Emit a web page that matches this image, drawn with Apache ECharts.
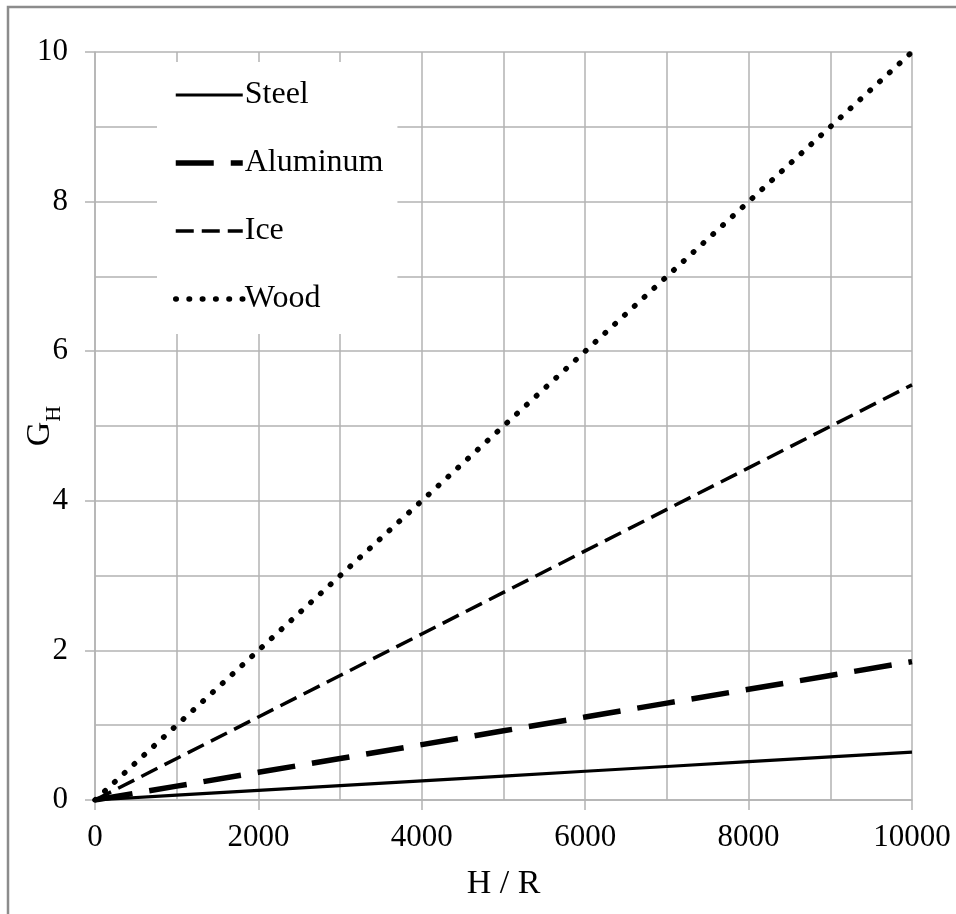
<!DOCTYPE html>
<html>
<head>
<meta charset="utf-8">
<script src="https://cdn.jsdelivr.net/npm/echarts@6/dist/echarts.min.js"></script>
<style>
html,body{margin:0;padding:0;background:#fff;}
#c{width:956px;height:914px;}
</style>
</head>
<body>
<div id="c"></div>
<script>
// Data
const hOverR = [0, 1000, 2000, 3000, 4000, 5000, 6000, 7000, 8000, 9000, 10000];
const steel = [0, 0.064, 0.128, 0.192, 0.256, 0.32, 0.384, 0.448, 0.512, 0.576, 0.64];
const aluminum = [0, 0.185, 0.37, 0.555, 0.74, 0.925, 1.11, 1.295, 1.48, 1.665, 1.85];
const ice = [0, 0.555, 1.11, 1.665, 2.22, 2.775, 3.33, 3.885, 4.44, 4.995, 5.55];
const wood = [0, 1, 2, 3, 4, 5, 6, 7, 8, 9, 10];
const seriesNames = ['Steel', 'Aluminum', 'Ice', 'Wood'];

function pairs(ys) { return hOverR.map((x, i) => [x, ys[i]]); }

const FONT = '"Liberation Serif", "Times New Roman", serif';
const GRID_COLOR = '#b3b3b3';

const styles = {
  Steel: {color: '#000', width: 3.2, type: 'solid', cap: 'butt'},
  Aluminum: {color: '#000', width: 5.5, type: [38, 17], cap: 'butt'},
  Ice: {color: '#000', width: 3.5, type: [18, 8], cap: 'butt'},
  Wood: {color: '#000', width: 5.5, type: [0.5, 12.8], cap: 'round'}
};

const chart = echarts.init(document.getElementById('c'), null, {renderer: 'canvas'});
chart.setOption({
  backgroundColor: '#fff',
  animation: false,
  graphic: [{
    type: 'rect', left: 5.5, top: 4.5, z: -10,
    shape: {x: 0, y: 0, width: 960, height: 930},
    style: {fill: 'none', stroke: '#8c8c8c', lineWidth: 2.5}
  }],
  grid: {left: 95, top: 52, right: 44, bottom: 114, containLabel: false, outerBoundsMode: 'none'},
  legend: {
    orient: 'vertical',
    left: 157, top: 62,
    padding: [16, 14, 18, 16],
    backgroundColor: '#fff',
    itemWidth: 67, itemHeight: 14, itemGap: 34,
    itemStyle: {opacity: 0, borderWidth: 0},
    data: seriesNames.map(n => ({name: n, itemStyle: {opacity: 0, borderWidth: 0}, lineStyle: styles[n]})),
    textStyle: {fontFamily: FONT, fontSize: 32, color: '#000', lineHeight: 34, padding: [0, 0, 0, -3]}
  },
  xAxis: {
    type: 'value', min: 0, max: 10000, interval: 2000,
    name: 'H / R', nameLocation: 'middle', nameGap: 67, nameMoveOverlap: false,
    nameTextStyle: {fontFamily: FONT, fontSize: 34, color: '#000'},
    axisLine: {show: true, lineStyle: {color: GRID_COLOR, width: 1.5}},
    axisTick: {show: true, inside: false, length: 10, lineStyle: {color: GRID_COLOR, width: 1.5}},
    axisLabel: {fontFamily: FONT, fontSize: 31, color: '#000', margin: 22, formatter: v => String(v)},
    splitLine: {show: true, lineStyle: {color: GRID_COLOR, width: 1.5}},
    minorTick: {show: false, splitNumber: 2},
    minorSplitLine: {show: true, lineStyle: {color: GRID_COLOR, width: 1.5}}
  },
  yAxis: {
    type: 'value', min: 0, max: 10, interval: 2,
    name: '{g|G}{s|H}', nameLocation: 'middle', nameGap: 38, nameRotate: 90, nameMoveOverlap: false,
    nameTextStyle: {
      fontFamily: FONT, color: '#000',
      rich: {
        g: {fontFamily: FONT, fontSize: 34, color: '#000', verticalAlign: 'bottom', lineHeight: 40},
        s: {fontFamily: FONT, fontSize: 22, color: '#000', verticalAlign: 'bottom', lineHeight: 40, padding: [0, 0, -8, 0]}
      }
    },
    axisLine: {show: true, lineStyle: {color: GRID_COLOR, width: 1.5}},
    axisTick: {show: true, inside: false, length: 10, lineStyle: {color: GRID_COLOR, width: 1.5}},
    axisLabel: {fontFamily: FONT, fontSize: 31, color: '#000', margin: 27, formatter: v => String(v)},
    splitLine: {show: true, lineStyle: {color: GRID_COLOR, width: 1.5}},
    minorTick: {show: false, splitNumber: 2},
    minorSplitLine: {show: true, lineStyle: {color: GRID_COLOR, width: 1.5}}
  },
  series: seriesNames.map((n, i) => ({
    name: n, type: 'line', data: pairs([steel, aluminum, ice, wood][i]),
    symbol: 'none', showSymbol: false,
    itemStyle: {color: '#000'},
    lineStyle: styles[n]
  }))
});
</script>
</body>
</html>
